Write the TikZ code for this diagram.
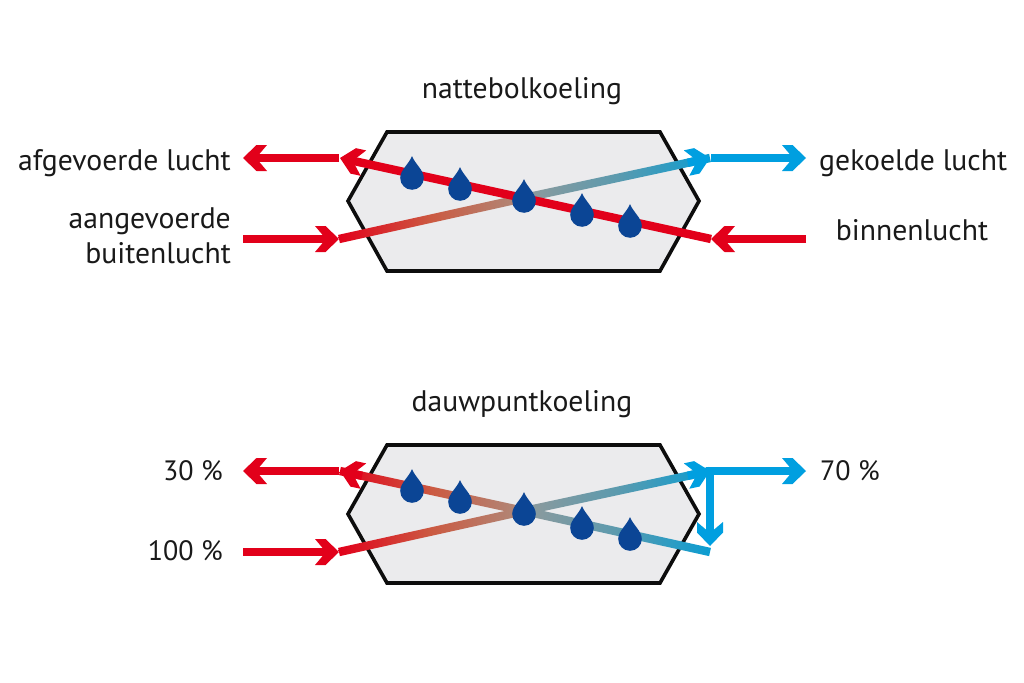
\documentclass[tikz,border=0pt]{standalone}
\usepackage{fontspec}
\setmainfont{PT Sans}
\usetikzlibrary{calc}
\definecolor{arrred}{HTML}{E2001A}
\definecolor{arrblue}{HTML}{009FE0}
\definecolor{midorange}{HTML}{CB5A42}
\definecolor{midtan}{HTML}{AE8B7C}
\definecolor{midgray}{HTML}{8F9A9C}
\definecolor{midteal}{HTML}{5B9AAE}
\definecolor{endblue}{HTML}{0A9DD2}
\definecolor{hexfill}{HTML}{EBEBED}
\definecolor{dropblue}{HTML}{0B4595}
\pgfdeclarearrow{
  name=chev,
  setup code={
    \pgfarrowssettipend{0pt}
    \pgfarrowssetlineend{-12pt}
    \pgfarrowssetvisualbackend{-24pt}
    \pgfarrowssetbackend{-24pt}
    \pgfarrowshullpoint{0pt}{0pt}
    \pgfarrowshullpoint{-24pt}{13pt}
    \pgfarrowshullpoint{-24pt}{-13pt}
  },
  drawing code={
    \pgfpathmoveto{\pgfqpoint{0pt}{0pt}}
    \pgfpathlineto{\pgfqpoint{-13.5pt}{13pt}}
    \pgfpathlineto{\pgfqpoint{-24pt}{13pt}}
    \pgfpathlineto{\pgfqpoint{-13pt}{0pt}}
    \pgfpathlineto{\pgfqpoint{-24pt}{-13pt}}
    \pgfpathlineto{\pgfqpoint{-13.5pt}{-13pt}}
    \pgfpathclose
    \pgfusepathqfill
  }
}
\tikzset{
  x=1pt,y=-1pt,
  hexbox/.style={draw=black!95,line width=3.6pt,fill=hexfill,line join=miter},
  flow/.style={line width=8.4pt,-chev},
  flowred/.style={flow,color=arrred},
  flowblue/.style={flow,color=arrblue},
  lbl/.style={font=\fontsize{29.7}{33}\selectfont,inner sep=0pt,text=black!90},
  pct/.style={font=\fontsize{28}{33}\selectfont,inner sep=0pt,text=black!90},
  dropshape/.pic={
    \fill[dropblue] (0,-22) .. controls (3,-14) and (11.8,-8) .. (11.8,0)
      arc[start angle=0,end angle=180,radius=11.8]
      .. controls (-11.8,-8) and (-3,-14) .. (0,-22) -- cycle;
  }
}
% gradient band between two named points; #1 is the left one
\newcommand{\band}[5]{%
  \shade[left color=#3,right color=#5,middle color=#4]
    ($(#1)!4.2pt!90:(#2)$) -- ($(#1)!4.2pt!-90:(#2)$) --
    ($(#2)!4.2pt!90:(#1)$) -- ($(#2)!4.2pt!-90:(#1)$) -- cycle;}
\begin{document}
\begin{tikzpicture}
\useasboundingbox (0,0) rectangle (1024,682);
% --- top diagram
\draw[hexbox] (387,132) -- (660,132) -- (699,201) -- (660,271) -- (387,271) -- (348,201) -- cycle;
\coordinate (tl) at (340,158); \coordinate (bl) at (339,239);
\coordinate (tr) at (710,158); \coordinate (br) at (711,239);
\coordinate (c)  at (524,198);
\coordinate (olt) at (243,158); \coordinate (olb) at (243,239);
\coordinate (ort) at (806,158); \coordinate (orb) at (806,239);
\band{bl}{c}{arrred}{midorange}{midtan}
\band{c}{tr}{midgray}{midteal}{endblue}
\draw[flowblue] ($(c)!0.88!(tr)$) -- (tr);
\draw[flowred] (br) -- (tl);
\draw[flowred] ($(tl)+(-1,0)$) -- (olt);
\draw[flowred] (olb) -- (bl);
\draw[flowblue] ($(tr)+(1,0)$) -- (ort);
\draw[flowred] (orb) -- (br);
\path (412,178) pic {dropshape} (460,189) pic {dropshape} (524,201) pic {dropshape}
      (582,215) pic {dropshape} (630,226) pic {dropshape};
\node[lbl,anchor=base] (t1) at (522,99) {nattebolkoeling};
\node[lbl,anchor=base east] (l1) at (231,170) {afgevoerde lucht};
\node[lbl,anchor=base east] (l2) at (231,228) {aangevoerde};
\node[lbl,anchor=base east] (l3) at (231,263) {buitenlucht};
\node[lbl,anchor=base west] (r1) at (819,170) {gekoelde lucht};
\node[lbl,anchor=base] (r2) at (912,240) {binnenlucht};
% --- bottom diagram
\draw[hexbox] (387,445) -- (660,445) -- (699,514) -- (660,583) -- (387,583) -- (348,514) -- cycle;
\coordinate (Tl) at (340,471); \coordinate (Bl) at (339,552);
\coordinate (Tr) at (710,471); \coordinate (Br) at (710,552);
\coordinate (C)  at (524,511);
\coordinate (Olt) at (243,471); \coordinate (Olb) at (243,552);
\coordinate (Ort) at (806,471); \coordinate (Vt) at (710,546);
\band{Bl}{C}{arrred}{midorange}{midtan}
\band{Tl}{C}{arrred}{midorange}{midtan}
\band{C}{Tr}{midgray}{midteal}{endblue}
\band{C}{Br}{midgray}{midteal}{endblue}
\draw[flowblue] ($(C)!0.88!(Tr)$) -- (Tr);
\draw[flowred] ($(C)!0.88!(Tl)$) -- (Tl);
\draw[flowred] ($(Tl)+(-1,0)$) -- (Olt);
\draw[flowred] (Olb) -- (Bl);
\draw[flowblue] ($(Tr)+(-4,0)$) -- (Ort);
\draw[flowblue] ($(Tr)+(0,-4)$) -- (Vt);
\path (412,491) pic {dropshape} (460,502) pic {dropshape} (524,514) pic {dropshape}
      (582,528) pic {dropshape} (630,539) pic {dropshape};
\node[lbl,anchor=base] (t2) at (522,411) {dauwpuntkoeling};
\node[pct,anchor=base east] (p30) at (223,480) {30 \%};
\node[pct,anchor=base east] (p100) at (223,560) {100 \%};
\node[pct,anchor=base west] (p70) at (820,480) {70 \%};
\end{tikzpicture}
\end{document}
